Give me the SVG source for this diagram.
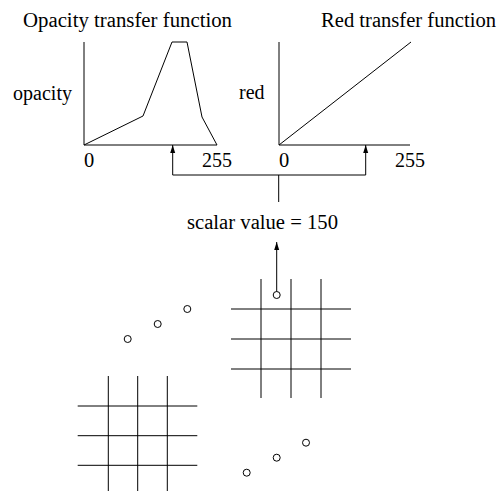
<svg xmlns="http://www.w3.org/2000/svg" width="498" height="491" viewBox="0 0 498 491">
<style>
text{font-family:"Liberation Serif","Times New Roman",serif;font-size:20.5px;fill:#000}
.l{fill:none;stroke:#000;stroke-width:1}
.c{fill:#fff;stroke:#000;stroke-width:1}
</style>
<defs>
<marker id="ah" viewBox="0 0 8 8" refX="8" refY="4" markerWidth="8" markerHeight="8" markerUnits="userSpaceOnUse" orient="auto">
<path d="M0,1.5 L8,4 L0,6.5 Z" fill="#000"/>
</marker>
</defs>
<rect width="498" height="491" fill="#fff"/>
<g id="opacity-plot">
<text x="23" y="27" textLength="209" lengthAdjust="spacingAndGlyphs">Opacity transfer function</text>
<text x="13" y="100" textLength="59" lengthAdjust="spacingAndGlyphs">opacity</text>
<path class="l" d="M84,42 V145 H217"/>
<path class="l" d="M84,145 L143,116 L172,42 L187,42 L202,117 L217,145"/>
<text x="84" y="167">0</text>
<text x="202" y="167" textLength="30" lengthAdjust="spacingAndGlyphs">255</text>
</g>
<g id="red-plot">
<text x="321" y="27" textLength="175" lengthAdjust="spacingAndGlyphs">Red transfer function</text>
<text x="239" y="99" textLength="25.5" lengthAdjust="spacingAndGlyphs">red</text>
<path class="l" d="M279,42 V145 H410"/>
<path class="l" d="M279,145 L411,42"/>
<text x="279" y="167">0</text>
<text x="395" y="167" textLength="30" lengthAdjust="spacingAndGlyphs">255</text>
</g>
<g id="scalar-label">
<text x="187" y="229" textLength="151" lengthAdjust="spacingAndGlyphs">scalar value = 150</text>
</g>
<g id="grid-upper">
<path class="l" d="M261,279 V398 M291,279 V398 M321,279 V398 M231,309 H351 M231,339 H351 M231,369 H351"/>
<circle class="c" cx="276.7" cy="295" r="3.5"/>
</g>
<g id="grid-lower">
<path class="l" d="M108.3,376 V491 M137.7,376 V491 M167.3,376 V491 M77.7,406 H197.3 M77.7,435.7 H197.3 M77.7,465.3 H197.3"/>
</g>
<g id="samples-upper">
<circle class="c" cx="127.7" cy="339" r="3.5"/>
<circle class="c" cx="157.7" cy="324" r="3.5"/>
<circle class="c" cx="187.3" cy="309" r="3.5"/>
</g>
<g id="samples-lower">
<circle class="c" cx="246.7" cy="472.7" r="3.5"/>
<circle class="c" cx="276.7" cy="457.7" r="3.5"/>
<circle class="c" cx="306" cy="442.7" r="3.5"/>
</g>
<g id="connectors">
<path class="l" d="M172.7,175 H365.7"/>
<path class="l" d="M172.7,175 V145" marker-end="url(#ah)"/>
<path class="l" d="M365.7,175 V145" marker-end="url(#ah)"/>
<path class="l" d="M278.7,175 V202"/>
<path class="l" d="M276.7,291.5 V242" marker-end="url(#ah)"/>
</g>
</svg>
